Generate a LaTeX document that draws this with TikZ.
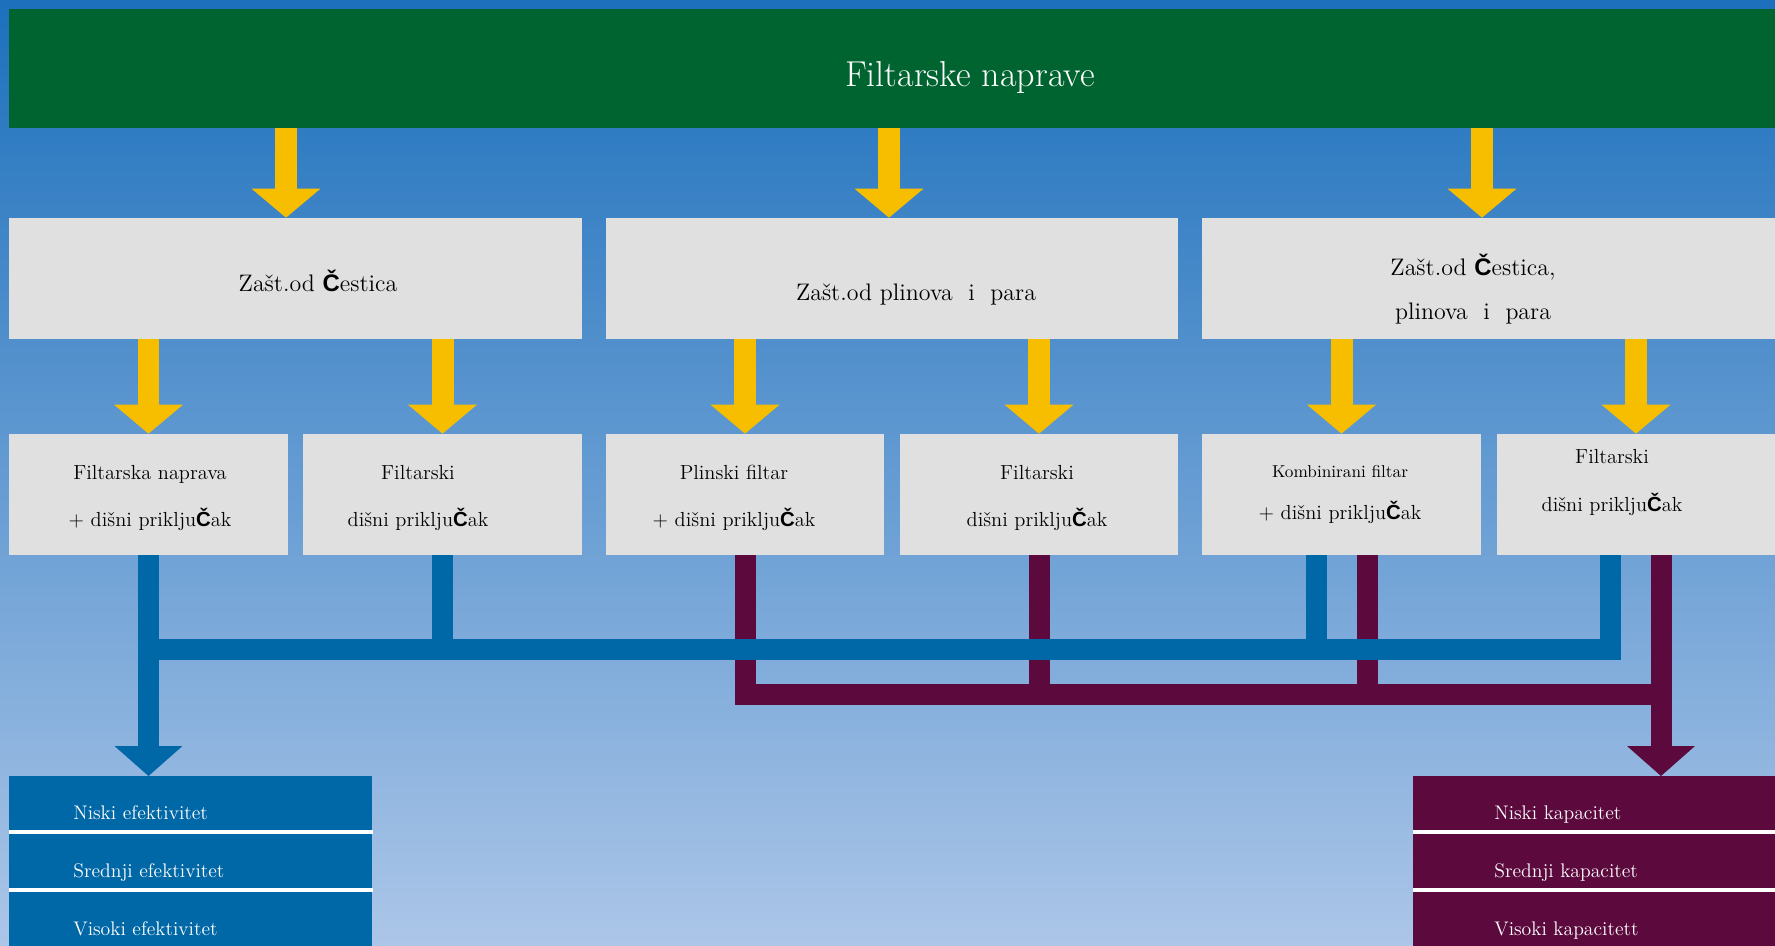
\documentclass[tikz,border=0pt]{standalone}
\usepackage{fontspec}
\usetikzlibrary{arrows.meta,positioning,calc}
\newfontfamily\caronfont{Liberation Sans}
\newcommand{\Cv}{{\caronfont\bfseries Č}}
\definecolor{bgtop}{RGB}{28,112,188}
\definecolor{bgbottom}{RGB}{172,198,232}
\definecolor{headgreen}{RGB}{0,100,48}
\definecolor{boxgray}{RGB}{224,224,224}
\definecolor{feedyellow}{RGB}{247,190,0}
\definecolor{effblue}{RGB}{0,104,166}
\definecolor{capplum}{RGB}{92,10,62}
\tikzset{
  header/.style={rectangle, fill=headgreen, inner sep=0pt, minimum width=35.32cm, minimum height=2.38cm},
  groupbox/.style={rectangle, fill=boxgray, inner sep=0pt, minimum width=11.46cm, minimum height=2.42cm},
  typebox/.style={rectangle, fill=boxgray, inner sep=0pt, minimum width=5.58cm, minimum height=2.42cm},
  headtext/.style={anchor=base, text=white, font=\fontsize{20.5pt}{24pt}\selectfont},
  grouptext/.style={anchor=base, align=center, font=\fontsize{13.6pt}{25pt}\selectfont},
  typetext/.style={anchor=base, align=center, font=\fontsize{11.6pt}{26.7pt}\selectfont},
  effrow/.style={rectangle, anchor=north west, fill=effblue, text=white, inner ysep=0pt, inner xsep=1.28cm,
    text width=4.7cm, text height=0.86cm, text depth=0.22cm, align=left, font=\fontsize{11.2pt}{13pt}\selectfont},
  caprow/.style={effrow, fill=capplum, inner xsep=1.62cm, text width=4.0cm},
  feed/.style={feedyellow, line width=4.4mm, -{Triangle[length=5.8mm, width=13.8mm, line width=0pt]}},
  effline/.style={effblue, line width=4.2mm},
  efflow/.style={effline, -{Triangle[length=6mm, width=13.6mm, line width=0pt]}},
  capline/.style={capplum, line width=4.2mm},
  capflow/.style={capline, -{Triangle[length=6mm, width=13.6mm, line width=0pt]}},
  rowgap/.style={white, line width=0.8mm}
}

\begin{document}
\begin{tikzpicture}[x=0.02cm, y=-0.02cm]
  \useasboundingbox (0,0) rectangle (1775,946);
  \shade[top color=bgtop, bottom color=bgbottom] (0,0) rectangle (1775,946);

  % header
  \node[header] (top) at (892,68.5) {};
  \node[headtext] (toptext) at (970,87) {Filtarske naprave};

  % protection groups
  \node[groupbox] (b1) at (295.5,278.5) {};
  \node[groupbox] (b2) at (892,278.5) {};
  \node[groupbox] (b3) at (1488.5,278.5) {};
  \node[grouptext] (b1text) at (318,291) {Zašt.od \Cv estica};
  \node[grouptext] (b2text) at (916,300) {Zašt.od plinova \ i \ para};
  \node[grouptext] (b3text) at (1473,319) {Zašt.od \Cv estica,\\plinova \ i \ para};

  % device types
  \node[typebox] (c1) at (148.5,494.5) {};
  \node[typebox] (c2) at (442.5,494.5) {};
  \node[typebox] (c3) at (745,494.5) {};
  \node[typebox] (c4) at (1039,494.5) {};
  \node[typebox] (c5) at (1341.5,494.5) {};
  \node[typebox] (c6) at (1636,494.5) {};
  \node[typetext] (c1text) at (150,526) {Filtarska naprava\\+ dišni priklju\Cv ak};
  \node[typetext] (c2text) at (418,526) {Filtarski\\dišni priklju\Cv ak};
  \node[typetext] (c3text) at (734,526) {Plinski filtar\\+ dišni priklju\Cv ak};
  \node[typetext] (c4text) at (1037,526) {Filtarski\\dišni priklju\Cv ak};
  \node[typetext, font=\fontsize{11.6pt}{23.9pt}\selectfont] (c5text) at (1340,519)
    {{\fontsize{9.8pt}{23.9pt}\selectfont Kombinirani filtar}\\+ dišni priklju\Cv ak};
  \node[typetext, font=\fontsize{11.6pt}{27.3pt}\selectfont] (c6text) at (1612,511) {Filtarski\\dišni priklju\Cv ak};

  % efficiency / capacity classes
  \node[effrow] (e1) at (9,776) {Niski efektivitet};
  \node[effrow] (e2) at (9,834) {Srednji efektivitet};
  \node[effrow] (e3) at (9,892) {Visoki efektivitet};
  \node[caprow] (k1) at (1413,776) {Niski kapacitet};
  \node[caprow] (k2) at (1413,834) {Srednji kapacitet};
  \node[caprow] (k3) at (1413,892) {Visoki kapacitett};
  \draw[rowgap] ($(e1.south west)!0.5!(e2.north west)$) -- ($(e1.south east)!0.5!(e2.north east)$);
  \draw[rowgap] ($(e2.south west)!0.5!(e3.north west)$) -- ($(e2.south east)!0.5!(e3.north east)$);
  \draw[rowgap] ($(k1.south west)!0.5!(k2.north west)$) -- ($(k1.south east)!0.5!(k2.north east)$);
  \draw[rowgap] ($(k2.south west)!0.5!(k3.north west)$) -- ($(k2.south east)!0.5!(k3.north east)$);

  % yellow feeds
  \draw[feed] ($(top.south -| b1.north)+(-9.5,0)$) -- ($(b1.north)+(-9.5,0)$);
  \draw[feed] ($(top.south -| b2.north)+(-3,0)$) -- ($(b2.north)+(-3,0)$);
  \draw[feed] ($(top.south -| b3.north)+(-6.5,0)$) -- ($(b3.north)+(-6.5,0)$);
  \draw[feed] (b1.south -| c1.north) -- (c1.north);
  \draw[feed] (b1.south -| c2.north) -- (c2.north);
  \draw[feed] (b2.south -| c3.north) -- (c3.north);
  \draw[feed] (b2.south -| c4.north) -- (c4.north);
  \draw[feed] (b3.south -| c5.north) -- (c5.north);
  \draw[feed] (b3.south -| c6.north) -- (c6.north);

  % collecting lines
  \coordinate (effbus) at (0,649);
  \coordinate (capbus) at (0,694);
  \coordinate (c5b) at ($(c5.south)+(-25,0)$);
  \coordinate (c5p) at ($(c5.south)+(26,0)$);
  \coordinate (c6b) at ($(c6.south)+(-26,0)$);
  \coordinate (c6p) at ($(c6.south)+(25,0)$);
  \draw[capline] (c3.south) |- (c6p |- capbus);
  \draw[capline] (c4.south) -- (c4.south |- capbus);
  \draw[capline] (c5p) -- (c5p |- capbus);
  \draw[capflow] (c6p) -- (c6p |- k1.north);
  \draw[effline] (c6b) |- (c1.south |- effbus);
  \draw[effline] (c2.south) -- (c2.south |- effbus);
  \draw[effline] (c5b) -- (c5b |- effbus);
  \draw[efflow] (c1.south) -- (c1.south |- e1.north);
\end{tikzpicture}
\end{document}
